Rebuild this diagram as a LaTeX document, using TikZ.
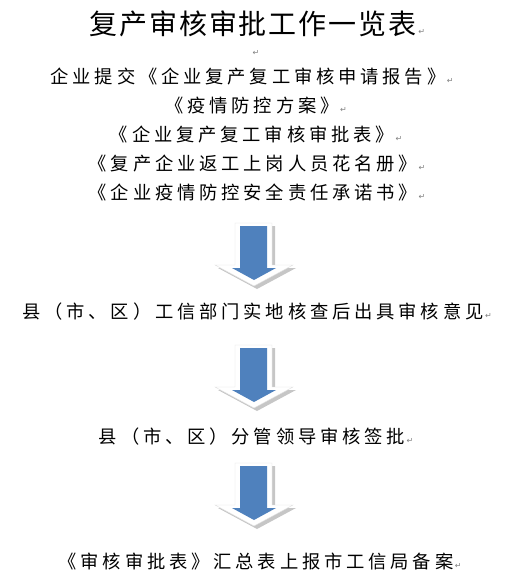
\documentclass[tikz,border=0pt]{standalone}
\usepackage{fontspec}
\usepackage{xcolor}
\newfontfamily\cjk[LetterSpace=21]{Noto Sans CJK SC}
\newfontfamily\cjktitle[LetterSpace=7]{Noto Sans CJK SC}
\newfontfamily\markfont{DejaVu Sans}
\definecolor{arrowblue}{RGB}{79,129,189}
\newcommand{\pmark}{\rlap{\hspace{1.5pt}\color{gray}\markfont\fontsize{8}{8}\selectfont ↵}}

\begin{document}
\begin{tikzpicture}[x=1pt, y=-1pt,
	line/.style = {anchor=base, inner sep=0pt, font=\cjk\fontsize{18.3}{18.3}\selectfont},
	headline/.style = {anchor=base, inner sep=0pt, font=\cjktitle\fontsize{28}{28}\selectfont}]
			\useasboundingbox (0,0) rectangle (505,582);
			% title and submitted documents
			\node[headline] (title) at (253,34) {复产审核审批工作一览表\pmark};
			\node[anchor=base, inner sep=0pt] (blank) at (256,55) {\color{gray}\markfont\fontsize{8}{8}\selectfont ↵};
			\node[line] (req1) at (248,83) {企业提交《企业复产复工审核申请报告》\pmark};
			\node[line] (req2) at (252,112) {《疫情防控方案》\pmark};
			\node[line] (req3) at (252,141) {《企业复产复工审核审批表》\pmark};
			\node[line] (req4) at (253,170) {《复产企业返工上岗人员花名册》\pmark};
			\node[line] (req5) at (253,199) {《企业疫情防控安全责任承诺书》\pmark};
			% arrows
			\foreach \t in {223,345,463} {
				\fill[gray!45] (238,\t+3) -- (275,\t+3) -- (275,\t+45) -- (296,\t+45) -- (257,\t+66) -- (218,\t+45) -- (238,\t+45) -- cycle;
				\filldraw[fill=white, draw=gray!25] (235,\t) -- (272,\t) -- (272,\t+42) -- (293,\t+42) -- (254,\t+63) -- (215,\t+42) -- (235,\t+42) -- cycle;
				\fill[arrowblue] (240,\t+3) -- (267,\t+3) -- (267,\t+45) -- (276,\t+45) -- (254,\t+57) -- (232,\t+45) -- (240,\t+45) -- cycle;
			}
			% steps
			\node[line] (check) at (253,318) {县（市、区）工信部门实地核查后出具审核意见\pmark};
			\node[line] (sign) at (252,443) {县（市、区）分管领导审核签批\pmark};
			\node[line] (file) at (256,568) {《审核审批表》汇总表上报市工信局备案\pmark};
		\end{tikzpicture}
\end{document}
